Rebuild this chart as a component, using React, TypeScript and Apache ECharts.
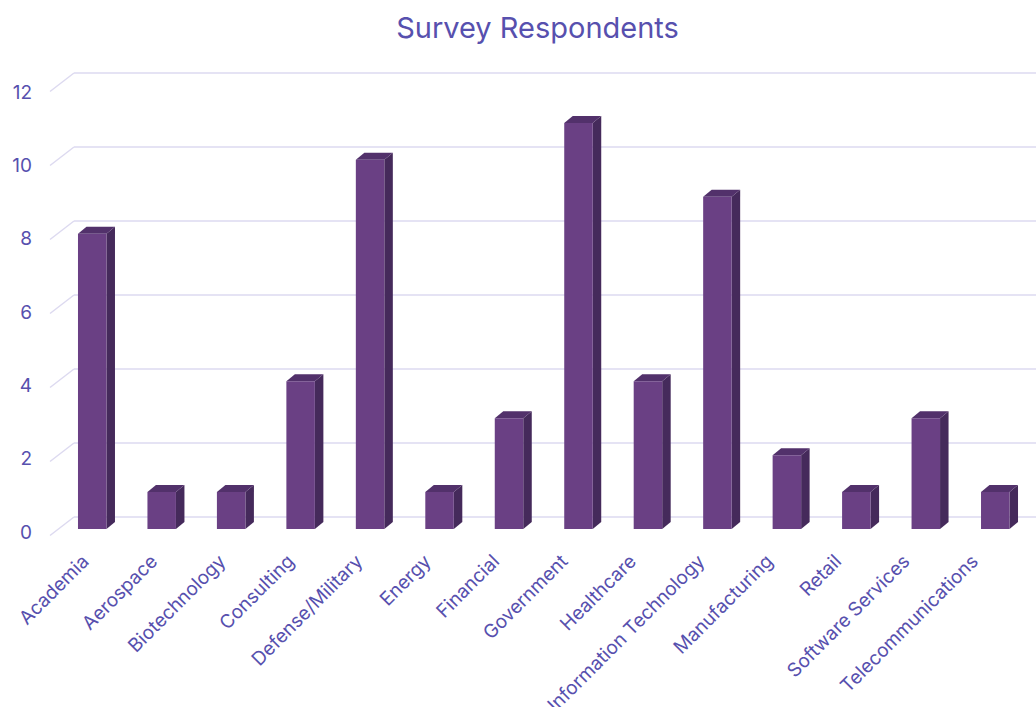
import React, { useEffect, useRef } from "react";
import * as echarts from "echarts";

const categories = [
  "Academia",
  "Aerospace",
  "Biotechnology",
  "Consulting",
  "Defense/Military",
  "Energy",
  "Financial",
  "Government",
  "Healthcare",
  "Information Technology",
  "Manufacturing",
  "Retail",
  "Software Services",
  "Telecommunications",
];
const respondents = [8, 1, 1, 4, 10, 1, 3, 11, 4, 9, 2, 1, 3, 1];
const yTicks = [0, 2, 4, 6, 8, 10, 12];

const TEXT = "#5750ae";
const GRID = "#dddaf0";
const FRONT = "#6a4084";
const SIDE = "#452a5b";
const TOP = "#52316b";

export default function App() {
  const ref = useRef<HTMLDivElement>(null);
  useEffect(() => {
    if (!ref.current) return;
    const chart = echarts.init(ref.current, undefined, { renderer: "svg" });
    const font = "Inter, 'Noto Sans', sans-serif";
    const g = { outerBoundsMode: "none", containLabel: false };
    chart.setOption({
      animation: false,
      backgroundColor: "#ffffff",
      title: {
        text: "Survey Respondents",
        left: 532.5,
        top: 8,
        textAlign: "center",
        textStyle: { color: TEXT, fontSize: 29, fontWeight: "normal", fontFamily: font },
      },
      grid: [
        // back wall
        { ...g, left: 74, right: 0, top: 73, bottom: 190 },
        // label plane (front)
        { ...g, left: 50, right: 0, top: 92, bottom: 175 },
        // bar plane
        { ...g, left: 57.5, right: 6, top: 86, bottom: 178 },
        // category label plane (front floor edge)
        { ...g, left: 51.3, right: 27.1, top: 86, bottom: 178 },
      ],
      xAxis: [
        { gridIndex: 0, type: "value", min: 0, max: 1, show: false },
        { gridIndex: 1, type: "value", min: 0, max: 1, show: false },
        {
          gridIndex: 2,
          type: "category",
          data: categories,
          axisLine: { show: false },
          axisTick: { show: false },
          axisLabel: { show: false },
        },
        {
          gridIndex: 3,
          type: "category",
          data: categories,
          axisLine: { show: false },
          axisTick: { show: false },
          axisLabel: {
            rotate: 45,
            interval: 0,
            margin: 29,
            color: TEXT,
            fontSize: 19,
            fontFamily: font,
          },
        },
      ],
      yAxis: [
        {
          gridIndex: 0,
          type: "value",
          min: 0,
          max: 12,
          interval: 2,
          axisLabel: { show: false },
          axisLine: { show: false },
          axisTick: { show: false },
          splitLine: { show: true, lineStyle: { color: GRID, width: 1.5 } },
        },
        {
          gridIndex: 1,
          type: "value",
          min: 0,
          max: 12,
          interval: 2,
          axisLine: { show: false },
          axisTick: { show: false },
          splitLine: { show: false },
          axisLabel: { color: TEXT, fontSize: 19, margin: 18, fontFamily: font },
        },
        {
          gridIndex: 2,
          type: "value",
          min: 0,
          max: 12,
          interval: 2,
          show: false,
          splitLine: { show: false },
        },
        {
          gridIndex: 3,
          type: "value",
          min: 0,
          max: 12,
          interval: 2,
          show: false,
          splitLine: { show: false },
        },
      ],
      series: [
        {
          type: "custom",
          xAxisIndex: 0,
          yAxisIndex: 0,
          data: yTicks.map((v) => [0, v]),
          silent: true,
          renderItem: (params: any, api: any) => {
            const p = api.coord([api.value(0), api.value(1)]);
            return {
              type: "line",
              shape: { x1: p[0] - 24, y1: p[1] + 18.5, x2: p[0], y2: p[1] },
              style: { stroke: GRID, lineWidth: 1.5 },
            };
          },
        },
        {
          type: "custom",
          xAxisIndex: 2,
          yAxisIndex: 2,
          data: respondents.map((v, i) => [i, v]),
          renderItem: (params: any, api: any) => {
            const top = api.coord([api.value(0), api.value(1)]);
            const base = api.coord([api.value(0), 0]);
            const w = 28.5;
            const dx = 8.5;
            const dy = 7;
            const x0 = top[0] - w / 2;
            const x1 = top[0] + w / 2;
            const yt = top[1];
            const yb = base[1];
            return {
              type: "group",
              children: [
                {
                  type: "polygon",
                  shape: { points: [[x1, yt], [x1 + dx, yt - dy], [x1 + dx, yb - dy], [x1, yb]] },
                  style: { fill: SIDE },
                },
                {
                  type: "polygon",
                  shape: { points: [[x0, yt], [x0 + dx, yt - dy], [x1 + dx, yt - dy], [x1, yt]] },
                  style: { fill: TOP },
                },
                {
                  type: "rect",
                  shape: { x: x0, y: yt, width: w, height: yb - yt },
                  style: { fill: FRONT },
                },
              ],
            };
          },
        },
      ],
    });
    return () => chart.dispose();
  }, []);
  return (
    <div
      ref={ref}
      style={{ position: "fixed", left: 0, top: 0, width: 1036, height: 707 }}
    />
  );
}
